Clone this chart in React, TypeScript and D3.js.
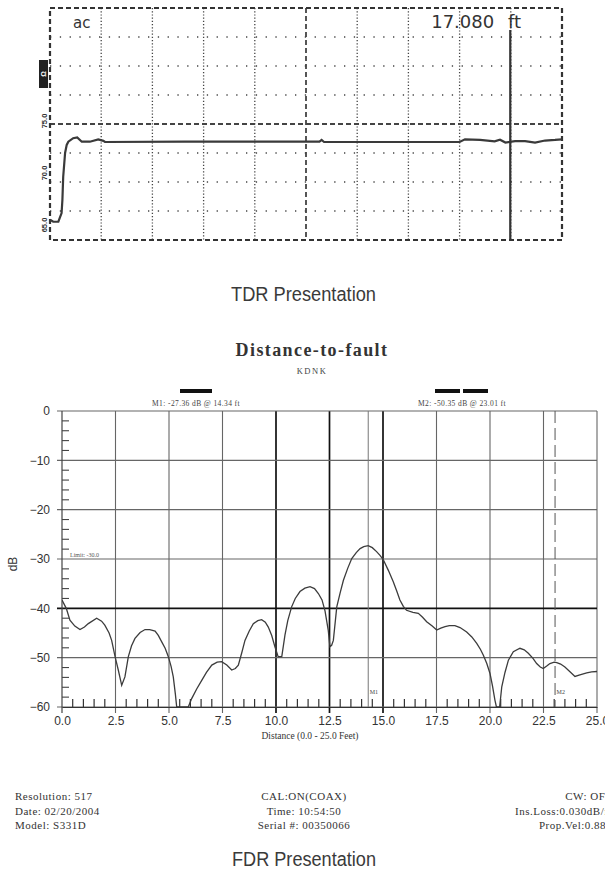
import React, { useEffect, useRef } from 'react';
import * as d3 from 'd3';

// TDR trace (distance in ft, level in screen divisions from centre)
const tdrDistance = [0, 0.12, 0.31, 0.43, 0.46, 0.49, 0.56, 0.62, 0.68, 0.86, 1.01, 1.18, 1.48, 1.79, 1.98, 2.04, 5.0, 10.0, 10.08, 10.17, 15.2, 15.4, 15.96, 16.5, 16.7, 16.9, 17.26, 17.63, 18.0, 18.37, 18.74, 19.0];
const tdrLevel = [-3.3, -3.37, -3.37, -3.07, -2.62, -1.82, -1.0, -0.72, -0.61, -0.49, -0.46, -0.61, -0.61, -0.53, -0.58, -0.62, -0.61, -0.61, -0.55, -0.62, -0.62, -0.53, -0.55, -0.6, -0.54, -0.64, -0.59, -0.59, -0.64, -0.57, -0.55, -0.53];
const tdrSideLabels = ['75.0', '70.0', '65.0'];

// FDR distance-to-fault trace
const fdrDistance = [0.0, 0.2, 0.37, 0.6, 0.84, 1.05, 1.23, 1.62, 1.85, 2.0, 2.2, 2.32, 2.48, 2.63, 2.79, 2.94, 3.1, 3.25, 3.41, 3.65, 3.88, 4.1, 4.35, 4.5, 4.66, 4.82, 4.97, 5.1, 5.2, 5.3, 5.36, 5.9, 6.06, 6.3, 6.53, 6.75, 7.0, 7.25, 7.46, 7.7, 7.93, 8.1, 8.24, 8.4, 8.55, 8.75, 8.94, 9.15, 9.33, 9.5, 9.64, 9.8, 9.95, 10.1, 10.27, 10.42, 10.55, 10.73, 10.9, 11.12, 11.35, 11.59, 11.8, 11.98, 12.15, 12.29, 12.44, 12.52, 12.6, 12.68, 12.84, 13.0, 13.15, 13.35, 13.54, 13.75, 13.93, 14.1, 14.31, 14.5, 14.7, 14.87, 15.02, 15.25, 15.48, 15.65, 15.79, 15.95, 16.1, 16.4, 16.65, 16.85, 17.04, 17.3, 17.51, 17.7, 17.9, 18.1, 18.36, 18.6, 18.91, 19.15, 19.38, 19.55, 19.69, 19.85, 20.0, 20.12, 20.23, 20.3, 20.45, 20.55, 20.7, 20.86, 21.09, 21.4, 21.6, 21.79, 22.0, 22.18, 22.35, 22.49, 22.65, 22.8, 23.0, 23.12, 23.3, 23.5, 23.75, 23.97, 24.2, 24.52, 24.75, 25.0];
const fdrDb = [-38.3, -40.0, -42.4, -43.6, -44.3, -43.8, -43.1, -42.0, -42.6, -43.4, -45.0, -46.5, -49.8, -52.5, -55.6, -53.9, -49.8, -47.6, -46.1, -44.9, -44.3, -44.3, -44.6, -45.5, -46.8, -48.1, -49.8, -51.8, -53.9, -57.5, -60, -60, -58.3, -56.3, -54.6, -53.0, -51.5, -50.9, -50.8, -51.5, -52.5, -52.2, -51.5, -49.0, -46.5, -44.6, -43.1, -42.5, -42.3, -42.8, -43.8, -45.5, -47.8, -49.8, -49.8, -45.4, -42.5, -39.7, -38.0, -36.6, -35.9, -35.6, -36.0, -37.0, -38.3, -40.5, -44.4, -47.8, -47.5, -46.5, -39.7, -36.8, -34.3, -31.9, -29.9, -28.7, -27.9, -27.5, -27.3, -27.7, -28.5, -29.3, -30.2, -32.3, -34.6, -36.6, -38.3, -39.6, -40.4, -40.8, -41.0, -41.8, -42.7, -43.6, -44.4, -44.0, -43.7, -43.5, -43.5, -43.9, -44.8, -45.8, -47.1, -48.3, -49.5, -51.2, -53.2, -55.8, -58.6, -60, -60, -55.9, -53.0, -50.5, -48.8, -48.1, -48.4, -49.1, -50.1, -51.2, -51.9, -52.2, -51.7, -51.2, -50.9, -51.0, -51.3, -51.9, -52.9, -53.8, -53.5, -53.1, -52.9, -52.8];
const dbTicks = [0, -10, -20, -30, -40, -50, -60];
const distTicks = [0, 2.5, 5, 7.5, 10, 12.5, 15, 17.5, 20, 22.5, 25];
const heavyDist = [10, 12.5, 15];
const heavyDb = [-40];
const markerDist = [14.31, 23.04];
const markerNames = ['M1', 'M2'];
const markerText = ['M1: -27.36 dB @ 14.34 ft', 'M2: -50.35 dB @ 23.01 ft'];
const infoLeft = ['Resolution:  517', 'Date: 02/20/2004', 'Model: S331D'];
const infoMid = ['CAL:ON(COAX)', 'Time: 10:54:50', 'Serial #: 00350066'];
const infoRight = ['CW: OFF', 'Ins.Loss:0.030dB/ft', 'Prop.Vel:0.880'];

const W = 605;
const H = 873;
const SERIF = '"Liberation Serif", "DejaVu Serif", serif';
const SANS = '"Liberation Sans", Arial, sans-serif';

const App: React.FC = () => {
  const svgRef = useRef<SVGSVGElement | null>(null);

  useEffect(() => {
    if (!svgRef.current) return;
    const svg = d3.select(svgRef.current);
    svg.selectAll('*').remove();

    svg.append('rect').attr('width', W).attr('height', H).attr('fill', '#fff');

    // ---------- TDR screen ----------
    const xT = d3.scaleLinear().domain([0, 19]).range([50, 562]);
    const yT = d3.scaleLinear().domain([-4, 4]).range([240, 8]);
    const tdr = svg.append('g');

    // dotted vertical grid
    d3.range(1, 10).forEach(i => {
      const x = xT(i * 1.9);
      tdr.append('line')
        .attr('x1', x).attr('x2', x).attr('y1', yT(4)).attr('y2', yT(-4))
        .attr('stroke', '#444')
        .attr('stroke-width', i === 5 ? 1.8 : 1.3)
        .attr('stroke-dasharray', i === 5 ? '5,3' : '1.2,2');
    });
    // dotted horizontal grid
    d3.range(-3, 4).forEach(v => {
      const y = yT(v);
      tdr.append('line')
        .attr('x1', xT(0)).attr('x2', xT(19)).attr('y1', y).attr('y2', y)
        .attr('stroke', '#444')
        .attr('stroke-width', v === 0 ? 2 : 1.3)
        .attr('stroke-dasharray', v === 0 ? '5,3' : '1.3,8.5');
    });
    // dashed frame
    tdr.append('rect')
      .attr('x', xT(0)).attr('y', yT(4))
      .attr('width', xT(19) - xT(0)).attr('height', yT(-4) - yT(4))
      .attr('fill', 'none').attr('stroke', '#333').attr('stroke-width', 2.2)
      .attr('stroke-dasharray', '5,3');

    // trace
    const tdrLine = d3.line<number>()
      .x((_, i) => xT(tdrDistance[i]))
      .y(d => yT(d));
    tdr.append('path')
      .datum(tdrLevel)
      .attr('d', tdrLine)
      .attr('fill', 'none').attr('stroke', '#3a3a3a').attr('stroke-width', 2.2);

    // cursor
    tdr.append('line')
      .attr('x1', xT(17.08)).attr('x2', xT(17.08)).attr('y1', 30).attr('y2', yT(-4))
      .attr('stroke', '#333').attr('stroke-width', 2.2);

    tdr.append('text').attr('x', 73).attr('y', 28)
      .attr('font-family', '"DejaVu Sans", sans-serif').attr('font-size', 15).attr('fill', '#333')
      .text('ac');
    tdr.append('text').attr('x', 521).attr('y', 28).attr('text-anchor', 'end')
      .attr('font-family', '"DejaVu Sans", sans-serif').attr('font-size', 18).attr('fill', '#333')
      .attr('word-spacing', 8)
      .text('17.080 ft');

    // side labels
    tdr.append('rect').attr('x', 39).attr('y', 60).attr('width', 9).attr('height', 28).attr('fill', '#222');
    tdr.append('text')
      .attr('transform', 'translate(46,74) rotate(-90)')
      .attr('text-anchor', 'middle').attr('font-family', SANS).attr('font-size', 7).attr('font-weight', 'bold')
      .attr('fill', '#fff').text('Ω');
    [121, 173, 225].forEach((cy, i) => {
      tdr.append('text')
        .attr('transform', `translate(47,${cy}) rotate(-90)`)
        .attr('text-anchor', 'middle').attr('font-family', SANS).attr('font-size', 7.5).attr('font-weight', 'bold')
        .attr('fill', '#333').text(tdrSideLabels[i]);
    });

    svg.append('text').attr('x', 231).attr('y', 301)
      .attr('font-family', SANS).attr('font-size', 20).attr('fill', '#3a3a3a')
      .attr('textLength', 145).attr('lengthAdjust', 'spacingAndGlyphs')
      .text('TDR Presentation');

    // ---------- FDR chart ----------
    const x = d3.scaleLinear().domain([0, 25]).range([62, 597]);
    const y = d3.scaleLinear().domain([-60, 0]).range([707, 411]);
    const fdr = svg.append('g');

    svg.append('text').attr('x', 312).attr('y', 356).attr('text-anchor', 'middle')
      .attr('font-family', SERIF).attr('font-size', 18).attr('font-weight', 'bold')
      .attr('letter-spacing', 1.4).attr('fill', '#333')
      .text('Distance-to-fault');
    svg.append('text').attr('x', 312).attr('y', 374).attr('text-anchor', 'middle')
      .attr('font-family', SERIF).attr('font-size', 8.5).attr('letter-spacing', 1.5).attr('fill', '#444')
      .text('KDNK');

    // marker legend
    fdr.append('rect').attr('x', 180).attr('y', 389).attr('width', 32).attr('height', 4).attr('fill', '#111');
    fdr.append('rect').attr('x', 435).attr('y', 389).attr('width', 25).attr('height', 4).attr('fill', '#111');
    fdr.append('rect').attr('x', 463).attr('y', 389).attr('width', 25).attr('height', 4).attr('fill', '#111');
    [196, 462].forEach((cx, i) => {
      fdr.append('text').attr('x', cx).attr('y', 406).attr('text-anchor', 'middle')
        .attr('font-family', SERIF).attr('font-size', 7.5).attr('letter-spacing', 0.4).attr('fill', '#444')
        .text(markerText[i]);
    });

    // grid
    distTicks.slice(1).forEach(d => {
      const heavy = heavyDist.includes(d);
      fdr.append('line')
        .attr('x1', x(d)).attr('x2', x(d)).attr('y1', y(0)).attr('y2', y(-60) + 6)
        .attr('stroke', heavy ? '#111' : '#666').attr('stroke-width', heavy ? 1.7 : 1.1);
    });
    dbTicks.forEach(v => {
      const heavy = heavyDb.includes(v);
      fdr.append('line')
        .attr('x1', x(0) - 5).attr('x2', x(25)).attr('y1', y(v)).attr('y2', y(v))
        .attr('stroke', heavy ? '#111' : '#666').attr('stroke-width', heavy ? 1.7 : 1.1);
    });
    // left axis line
    fdr.append('line')
      .attr('x1', x(0)).attr('x2', x(0)).attr('y1', y(0)).attr('y2', y(-60) + 6)
      .attr('stroke', '#444').attr('stroke-width', 1.2);

    // minor ticks
    d3.range(-58, 0, 2).filter(v => v % 10 !== 0).forEach(v => {
      fdr.append('line')
        .attr('x1', x(0)).attr('x2', x(0) + 7).attr('y1', y(v)).attr('y2', y(v))
        .attr('stroke', '#444').attr('stroke-width', 1.1);
    });
    d3.range(0.5, 25, 0.5).filter(d => Math.abs(d / 2.5 - Math.round(d / 2.5)) > 0.01).forEach(d => {
      fdr.append('line')
        .attr('x1', x(d)).attr('x2', x(d)).attr('y1', y(-60)).attr('y2', y(-60) - 8)
        .attr('stroke', '#333').attr('stroke-width', 1.2);
    });

    // marker lines
    fdr.append('line')
      .attr('x1', x(markerDist[0])).attr('x2', x(markerDist[0])).attr('y1', y(0)).attr('y2', y(-60))
      .attr('stroke', '#777').attr('stroke-width', 1);
    fdr.append('line')
      .attr('x1', x(markerDist[1])).attr('x2', x(markerDist[1])).attr('y1', y(0)).attr('y2', y(-60))
      .attr('stroke', '#555').attr('stroke-width', 1).attr('stroke-dasharray', '12,5');
    markerDist.forEach((d, i) => {
      fdr.append('text').attr('x', x(d) + 1.5).attr('y', y(-57.3))
        .attr('font-family', SERIF).attr('font-size', 6).attr('fill', '#444')
        .text(markerNames[i]);
    });

    fdr.append('text').attr('x', 70).attr('y', 557)
      .attr('font-family', SERIF).attr('font-size', 6).attr('fill', '#555')
      .text('Limit: -30.0');

    // trace
    svg.append('clipPath').attr('id', 'plotClip')
      .append('rect').attr('x', x(0)).attr('y', y(0)).attr('width', x(25) - x(0)).attr('height', y(-60) - y(0));
    const fdrLine = d3.line<number>()
      .x((_, i) => x(fdrDistance[i]))
      .y(d => y(d));
    fdr.append('path')
      .datum(fdrDb)
      .attr('clip-path', 'url(#plotClip)')
      .attr('d', fdrLine)
      .attr('fill', 'none').attr('stroke', '#3c3c3c').attr('stroke-width', 1.3);

    // axes
    const yAxis = fdr.append('g')
      .attr('transform', `translate(${x(0)},0)`)
      .call(d3.axisLeft(y).tickValues(dbTicks).tickFormat(d3.format('d')).tickSize(0).tickPadding(12));
    yAxis.select('.domain').remove();
    yAxis.selectAll('text').attr('font-family', SANS).attr('font-size', 12).attr('fill', '#333');

    const xAxis = fdr.append('g')
      .attr('transform', `translate(0,${y(-60)})`)
      .call(d3.axisBottom(x).tickValues(distTicks).tickFormat(d3.format('.1f')).tickSize(0).tickSizeOuter(0).tickPadding(9));
    xAxis.select('.domain').attr('stroke', '#333').attr('stroke-width', 1.2);
    xAxis.selectAll('text').attr('font-family', SANS).attr('font-size', 12).attr('fill', '#333');

    fdr.append('text').attr('x', 310).attr('y', 739).attr('text-anchor', 'middle')
      .attr('font-family', SERIF).attr('font-size', 9.5).attr('fill', '#333')
      .text('Distance (0.0 - 25.0 Feet)');
    fdr.append('text')
      .attr('transform', `translate(17,${y(-30) + 5}) rotate(-90)`)
      .attr('text-anchor', 'middle').attr('font-family', SANS).attr('font-size', 12).attr('fill', '#333')
      .text('dB');

    // footer info
    const rows = [800, 814.5, 829];
    rows.forEach((ry, i) => {
      svg.append('text').attr('x', 15).attr('y', ry)
        .attr('font-family', SERIF).attr('font-size', 11).attr('letter-spacing', 0.5).attr('fill', '#333')
        .text(infoLeft[i]);
      svg.append('text').attr('x', 304).attr('y', ry).attr('text-anchor', 'middle')
        .attr('font-family', SERIF).attr('font-size', 11).attr('letter-spacing', 0.5).attr('fill', '#333')
        .text(infoMid[i]);
      svg.append('text').attr('x', 612).attr('y', ry).attr('text-anchor', 'end')
        .attr('font-family', SERIF).attr('font-size', 11).attr('letter-spacing', 0.5).attr('fill', '#333')
        .text(infoRight[i]);
    });

    svg.append('text').attr('x', 232).attr('y', 866)
      .attr('font-family', SANS).attr('font-size', 20).attr('fill', '#3a3a3a')
      .attr('textLength', 144).attr('lengthAdjust', 'spacingAndGlyphs')
      .text('FDR Presentation');
  }, []);

  return (
    <svg
      ref={svgRef}
      width={W}
      height={H}
      style={{ position: 'absolute', left: 0, top: 0, display: 'block' }}
    />
  );
};

export default App;
